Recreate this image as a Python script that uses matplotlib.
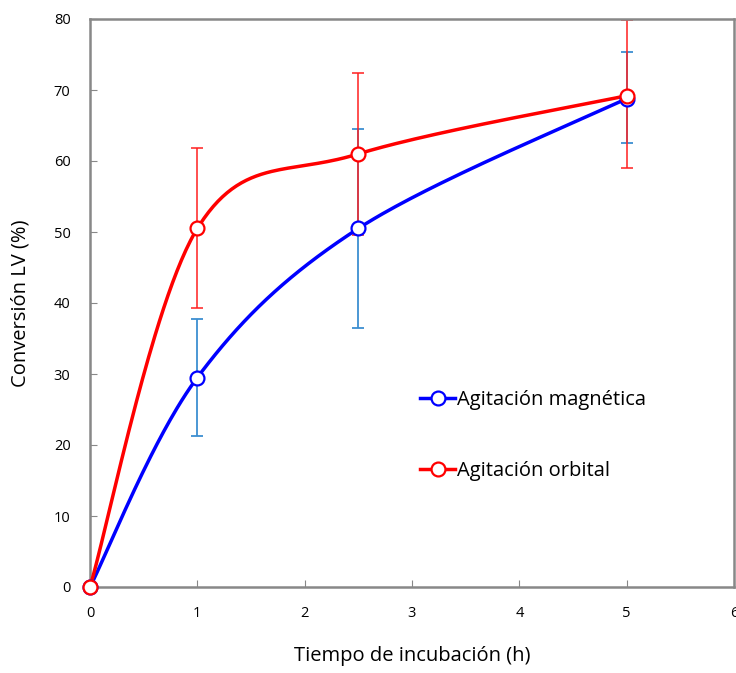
import numpy as np
import matplotlib
matplotlib.use('Agg')
import matplotlib.pyplot as plt

plt.rcParams['font.family'] = ['Open Sans', 'DejaVu Sans']

# data
tiempo = [0, 1, 2.5, 5]
magnetica = [0, 29.5, 50.5, 68.8]
magnetica_err_lo = [0, 8.2, 14.0, 6.3]
magnetica_err_hi = [0, 8.2, 14.0, 6.5]
orbital = [0, 50.5, 61.0, 69.2]
orbital_err_lo = [0, 11.2, 11.4, 10.2]
orbital_err_hi = [0, 11.3, 11.4, 10.6]
labels = ['Agitación magnética', 'Agitación orbital']

xlim = (0, 6)
ylim = (0, 80)


def smooth(xs, ys, sx, sy, n=60):
    # excel-like smoothed line: bezier with catmull-rom tangents (in scaled space)
    P = np.column_stack([np.array(xs) * sx, np.array(ys) * sy])
    out = []
    for i in range(len(P) - 1):
        p0 = P[i - 1] if i > 0 else P[i]
        p1 = P[i]
        p2 = P[i + 1]
        p3 = P[i + 2] if i + 2 < len(P) else P[i + 1]
        c1 = p1 + (p2 - p0) / 6
        c2 = p2 - (p3 - p1) / 6
        t = np.linspace(0, 1, n)[:, None]
        seg = (1 - t) ** 3 * p1 + 3 * (1 - t) ** 2 * t * c1 + 3 * (1 - t) * t ** 2 * c2 + t ** 3 * p2
        out.append(seg)
    pts = np.vstack(out)
    return pts[:, 0] / sx, pts[:, 1] / sy


fig = plt.figure(figsize=(7.36, 6.73), dpi=100)
ax = fig.add_axes([90 / 736, 1 - 587 / 673, 644 / 736, 568 / 673])

# pixel scale so smoothing happens in display-like space
sx = 644 / 6
sy = 568 / 80

ax.errorbar(tiempo[1:], magnetica[1:], yerr=[magnetica_err_lo[1:], magnetica_err_hi[1:]],
            fmt='none', ecolor='#3d8fd1', elinewidth=1.3, capsize=4, capthick=1.3, zorder=2)
ax.errorbar(tiempo[1:], orbital[1:], yerr=[orbital_err_lo[1:], orbital_err_hi[1:]],
            fmt='none', ecolor='#ff2020', elinewidth=1.3, capsize=4, capthick=1.3, zorder=2, alpha=0.85)

bx, by = smooth(tiempo, magnetica, sx, sy)
rx, ry = smooth(tiempo, orbital, sx, sy)
ax.plot(bx, by, color='#0000ff', lw=2.5, zorder=3)
ax.plot(rx, ry, color='#ff0000', lw=2.5, zorder=4)
ax.plot(tiempo, magnetica, 'o', ms=10, mfc='white', mec='#0000ff', mew=1.6, zorder=5, clip_on=False)
ax.plot(tiempo, orbital, 'o', ms=10, mfc='white', mec='#ff0000', mew=1.6, zorder=6, clip_on=False)

# legend handles
h1, = ax.plot([], [], '-o', color='#0000ff', lw=2.5, ms=10, mfc='white', mew=1.6)
h2, = ax.plot([], [], '-o', color='#ff0000', lw=2.5, ms=10, mfc='white', mew=1.6)
ax.legend([h1, h2], labels, loc='upper left', bbox_to_anchor=(330 / 644, 197 / 568),
          frameon=False, fontsize=14.5, handlelength=1.75, handletextpad=0.1,
          labelspacing=2.55, borderpad=0, borderaxespad=0)

ax.set_xlim(xlim)
ax.set_ylim(ylim)
ax.set_xticks(range(0, 7))
ax.set_yticks(range(0, 81, 10))
ax.tick_params(direction='in', length=5, color='#888888', labelsize=10.5)
ax.tick_params(axis='x', pad=14)
ax.tick_params(axis='y', pad=14)
for s in ax.spines.values():
    s.set_color('#888888')
    s.set_linewidth(1.8)

ax.set_xlabel('Tiempo de incubación (h)', fontsize=14.5, labelpad=18)
ax.set_ylabel('Conversión LV (%)', fontsize=14.5, labelpad=17)

fig.savefig('out.png', dpi=100)
